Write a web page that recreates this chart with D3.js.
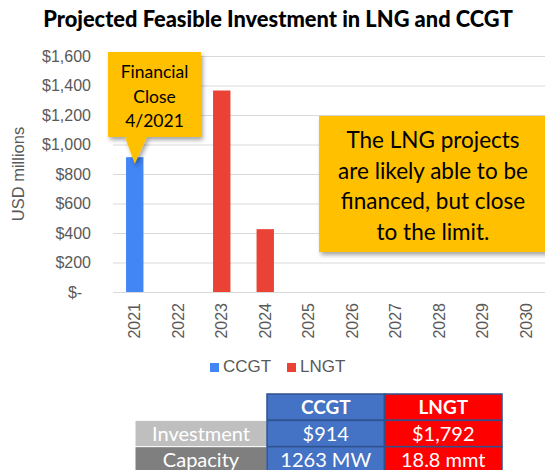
<!DOCTYPE html>
<html>
<head>
<meta charset="utf-8">
<script src="https://cdn.jsdelivr.net/npm/d3@7"></script>
<style>
    body { margin: 0; background: #fff; }
    svg { display: block; }
</style>
</head>
<body>
<div class="chart-container"></div>
<script>
// chart data
const years = ['2021', '2022', '2023', '2024', '2025', '2026', '2027', '2028', '2029', '2030'];
const ccgtValues = [914, 0, 0, 0, 0, 0, 0, 0, 0, 0];
const lngtValues = [0, 0, 1366, 426, 0, 0, 0, 0, 0, 0];
const yTicks = [0, 200, 400, 600, 800, 1000, 1200, 1400, 1600];
const seriesNames = ['CCGT', 'LNGT'];

// summary table
const tableColumns = ['CCGT', 'LNGT'];
const tableRowLabels = ['Investment', 'Capacity'];
const investmentCells = ['$914', '$1,792'];
const capacityCells = ['1263 MW', '18.8 mmt'];

// callout texts
const closeNote = ['Financial', 'Close', '4/2021'];
const limitNote = ['The LNG projects', 'are likely able to be', 'financed, but close', 'to the limit.'];

const colors = { CCGT: '#4285F4', LNGT: '#EA4335' };
const axisGrey = '#595959';
const calloutFill = '#FFC000';

const W = 545, H = 470;
const margin = { top: 56, left: 113, right: -3, bottom: 178 };
const width = W - margin.left - margin.right;
const height = H - margin.top - margin.bottom;

const svg = d3.select('.chart-container')
    .append('svg')
    .attr('width', W)
    .attr('height', H);

const defs = svg.append('defs');
defs.append('filter')
    .attr('id', 'shadow')
    .attr('x', '-10%').attr('y', '-10%')
    .attr('width', '130%').attr('height', '130%')
    .append('feDropShadow')
    .attr('dx', 2).attr('dy', 3)
    .attr('stdDeviation', 2)
    .attr('flood-color', '#000')
    .attr('flood-opacity', 0.35);

// title, sized to span the same width as the original
const title = svg.append('text')
    .attr('x', 278)
    .attr('y', 27)
    .attr('text-anchor', 'middle')
    .style('font-family', 'Lato, sans-serif')
    .style('font-weight', '900')
    .style('font-size', '20px')
    .style('fill', '#000')
    .text('Projected Feasible Investment in LNG and CCGT');

const titleLen = title.node().getComputedTextLength();
title.style('font-size', `${20 * 470 / titleLen}px`);

const g = svg.append('g')
    .attr('transform', `translate(${margin.left}, ${margin.top})`);

// scales
const xScale = d3.scaleBand()
    .domain(years)
    .range([0, width])
    .paddingInner(0.6)
    .paddingOuter(0.3);

const yScale = d3.scaleLinear()
    .domain([0, 1600])
    .range([height, 0]);

// gridlines + y axis
const yAxis = d3.axisLeft(yScale)
    .tickValues(yTicks)
    .tickFormat(d => d === 0 ? '$-\u00a0\u00a0' : '$' + d3.format(',')(d))
    .tickSizeInner(-width)
    .tickSizeOuter(0)
    .tickPadding(22);

const yAxisDraw = g.append('g')
    .attr('class', 'y axis')
    .call(yAxis);

yAxisDraw.select('.domain').remove();
yAxisDraw.selectAll('line').attr('stroke', '#D9D9D9');
yAxisDraw.selectAll('text')
    .style('font-family', '"Liberation Sans", Arial, sans-serif')
    .style('font-size', '16px')
    .style('fill', axisGrey);

// y axis title
svg.append('text')
    .attr('transform', `translate(24, ${margin.top + height / 2}) rotate(-90)`)
    .attr('text-anchor', 'middle')
    .style('font-family', '"Liberation Sans", Arial, sans-serif')
    .style('font-size', '16.5px')
    .style('fill', axisGrey)
    .text('USD millions');

// stacked bars
const stackData = years.map((year, i) => ({ year, CCGT: ccgtValues[i], LNGT: lngtValues[i] }));
const stacked = d3.stack().keys(seriesNames)(stackData);

g.append('g')
    .attr('class', 'bars')
    .selectAll('g')
    .data(stacked)
    .enter()
        .append('g')
        .attr('fill', d => colors[d.key])
        .selectAll('rect')
        .data(d => d.filter(p => p[1] - p[0] > 0))
        .enter()
            .append('rect')
            .attr('x', d => xScale(d.data.year))
            .attr('width', xScale.bandwidth())
            .attr('y', d => yScale(d[1]))
            .attr('height', d => yScale(d[0]) - yScale(d[1]));

// x axis labels
const xAxis = d3.axisBottom(xScale).tickSize(0).tickPadding(0);
const xAxisDraw = g.append('g')
    .attr('class', 'x axis')
    .attr('transform', `translate(0, ${height})`)
    .call(xAxis);

xAxisDraw.select('.domain').remove();
xAxisDraw.selectAll('text')
    .attr('transform', 'rotate(-90)')
    .attr('x', -11)
    .attr('y', 0)
    .attr('dy', '0.35em')
    .style('text-anchor', 'end')
    .style('font-family', '"Liberation Sans", Arial, sans-serif')
    .style('font-size', '16px')
    .style('fill', axisGrey);

// legend
const legend = svg.append('g')
    .attr('class', 'legend')
    .attr('transform', 'translate(210, 363)');

const legendItems = legend.selectAll('g')
    .data(seriesNames)
    .enter()
        .append('g')
        .attr('transform', (d, i) => `translate(${i * 77}, 0)`);

legendItems.append('rect')
    .attr('width', 9)
    .attr('height', 9)
    .attr('fill', d => colors[d]);

legendItems.append('text')
    .attr('x', 13)
    .attr('y', 9)
    .style('font-family', '"Liberation Sans", Arial, sans-serif')
    .style('font-size', '17px')
    .style('fill', axisGrey)
    .text(d => d);

// callout: financial close
const closeTip = [margin.left + xScale('2021') + xScale.bandwidth() / 2, margin.top + yScale(870)];
const closeBox = { x: 108, y: 52, w: 93, h: 85 };

const closeCallout = svg.append('g').attr('filter', 'url(#shadow)');
closeCallout.append('path')
    .attr('d', d3.line()([
        [closeBox.x, closeBox.y],
        [closeBox.x + closeBox.w, closeBox.y],
        [closeBox.x + closeBox.w, closeBox.y + closeBox.h],
        [147, closeBox.y + closeBox.h],
        closeTip,
        [125, closeBox.y + closeBox.h],
        [closeBox.x, closeBox.y + closeBox.h]
    ]) + 'Z')
    .attr('fill', calloutFill);

svg.append('text')
    .attr('text-anchor', 'middle')
    .style('font-family', 'Lato, sans-serif')
    .style('font-size', '17.5px')
    .style('fill', '#000')
    .selectAll('tspan')
    .data(closeNote)
    .enter()
        .append('tspan')
        .attr('x', closeBox.x + closeBox.w / 2)
        .attr('y', (d, i) => 78 + i * 24.5)
        .text(d => d);

// callout: LNG limit
const limitBox = { x: 319, y: 116, w: 232, h: 136 };
svg.append('rect')
    .attr('x', limitBox.x)
    .attr('y', limitBox.y)
    .attr('width', limitBox.w)
    .attr('height', limitBox.h)
    .attr('fill', calloutFill)
    .attr('filter', 'url(#shadow)');

svg.append('text')
    .attr('text-anchor', 'middle')
    .style('font-family', 'Lato, sans-serif')
    .style('font-size', '22.5px')
    .style('fill', '#000')
    .selectAll('tspan')
    .data(limitNote)
    .enter()
        .append('tspan')
        .attr('x', 433)
        .attr('y', (d, i) => 148 + i * 30.5)
        .text(d => d);

// summary table
const table = svg.append('g').attr('class', 'summary-table');
const labelCol = { x: 135, w: 132 };
const colX = d3.scaleBand().domain(tableColumns).range([267, 502]);
const rowY = d3.scaleBand().domain(['header', ...tableRowLabels]).range([394, 473]);
const rowFills = { Investment: '#BFBFBF', Capacity: '#7F7F7F' };
const rowValues = { Investment: investmentCells, Capacity: capacityCells };
const cellFont = 'Lato, sans-serif';

// header
tableColumns.forEach(col => {
    table.append('rect')
        .attr('x', colX(col)).attr('y', rowY('header'))
        .attr('width', colX.bandwidth()).attr('height', rowY.bandwidth())
        .attr('fill', col === 'CCGT' ? '#4472C4' : '#FF0000')
        .attr('stroke', '#2F528F').attr('stroke-width', 1.5);
    table.append('text')
        .attr('x', colX(col) + colX.bandwidth() / 2)
        .attr('y', rowY('header') + rowY.bandwidth() / 2)
        .attr('dy', '0.36em')
        .attr('text-anchor', 'middle')
        .style('font-family', cellFont)
        .style('font-weight', 'bold')
        .style('font-size', '19px')
        .style('fill', '#fff')
        .text(col);
});

// body rows
tableRowLabels.forEach(row => {
    table.append('rect')
        .attr('x', labelCol.x).attr('y', rowY(row))
        .attr('width', labelCol.w).attr('height', rowY.bandwidth())
        .attr('fill', rowFills[row])
        .attr('stroke', '#fff').attr('stroke-width', 1);
    table.append('text')
        .attr('x', labelCol.x + labelCol.w / 2)
        .attr('y', rowY(row) + rowY.bandwidth() / 2)
        .attr('dy', '0.36em')
        .attr('text-anchor', 'middle')
        .style('font-family', cellFont)
        .style('font-size', '20px')
        .style('fill', '#fff')
        .text(row);

    rowValues[row].forEach((val, i) => {
        const col = tableColumns[i];
        table.append('rect')
            .attr('x', colX(col)).attr('y', rowY(row))
            .attr('width', colX.bandwidth()).attr('height', rowY.bandwidth())
            .attr('fill', col === 'CCGT' ? '#4472C4' : '#FF0000')
            .attr('stroke', '#2F528F').attr('stroke-width', 1.5);
        table.append('text')
            .attr('x', colX(col) + colX.bandwidth() / 2)
            .attr('y', rowY(row) + rowY.bandwidth() / 2)
            .attr('dy', '0.36em')
            .attr('text-anchor', 'middle')
            .style('font-family', cellFont)
            .style('font-size', '20px')
            .style('fill', '#fff')
            .text(val);
    });
});
</script>
</body>
</html>
